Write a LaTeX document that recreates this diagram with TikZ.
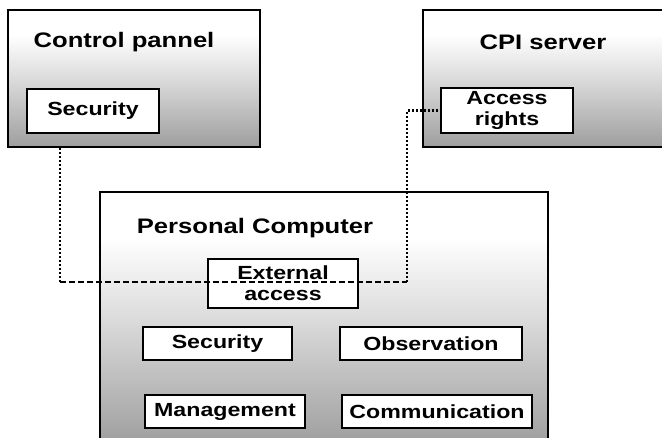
\documentclass[tikz,border=0pt]{standalone}
\usepackage{fontspec}
\newfontfamily\diagfont[FakeStretch=1.22]{Liberation Sans}
\pgfdeclareverticalshading{paper}{100bp}{%
  color(0bp)=(black!55); color(25bp)=(black!38); color(50bp)=(black!14);
  color(66bp)=(white); color(100bp)=(white)}
\tikzset{
  unit/.style={draw=black, line width=2.6pt, shading=paper, inner sep=0pt},
  module/.style={draw=black, line width=2.6pt, fill=white, inner sep=0pt,
    align=center, font=\diagfont\bfseries\fontsize{19}{21}\selectfont},
  heading/.style={inner sep=0pt, font=\diagfont\bfseries\fontsize{21}{23}\selectfont},
  dotline/.style={line width=2.4pt, dash pattern=on 2pt off 2pt},
  dashline/.style={line width=2.4pt, dash pattern=on 6pt off 3pt},
}
\begin{document}
\begin{tikzpicture}[x=1pt, y=-1pt]
\useasboundingbox (0,0) rectangle (662,437);

% Control panel
\node[unit, minimum width=252pt, minimum height=137pt] (cp) at (134,78.5) {};
\node[heading] (cpt) at (124,42) {Control pannel};
\node[module, minimum width=132pt, minimum height=44pt] (sec1) at (93,111) {Security};

% CPI server (runs off the right edge)
\node[unit, minimum width=257pt, minimum height=137pt] (cpi) at (551.5,78.5) {};
\node[heading] (cpit) at (543,42) {CPI server};
\node[module, minimum width=132pt, minimum height=45pt] (ar) at (507,110.5) {Access\\rights};

% Personal computer
\node[unit, minimum width=448pt, minimum height=253pt] (pc) at (324,318.5) {};
\node[heading] (pct) at (255,228) {Personal Computer};
\node[module, minimum width=150pt, minimum height=49pt] (ext) at (283,283.5) {External\\access};
\node[module, minimum width=149pt, minimum height=33pt] (sec2) at (217.5,343.5) {Security};
\node[module, minimum width=182pt, minimum height=33pt] (obs) at (431,343.5) {Observation};
\node[module, minimum width=160pt, minimum height=33pt] (mgt) at (225,411.5) {Management};
\node[module, minimum width=190pt, minimum height=33pt] (com) at (437,411.5) {Communication};

% Link between the control panel and the CPI server
\coordinate (j1) at (60,282);
\coordinate (j2) at (407,282);
\draw[dotline] (cp.south -| j1) -- (j1);
\draw[dashline] (j1) -- (j2);
\draw[dotline] (j2) -- (j2 |- ar.west) -- (ar.west);
\end{tikzpicture}
\end{document}
